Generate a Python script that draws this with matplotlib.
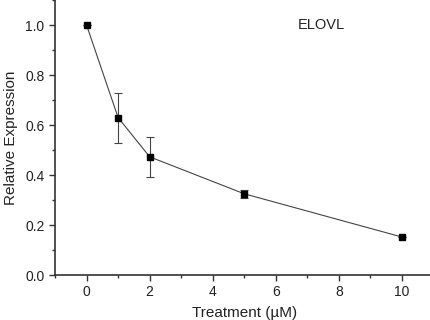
import matplotlib
matplotlib.use("Agg")
import matplotlib.pyplot as plt
from matplotlib.ticker import MultipleLocator

# data
dose = [0, 1, 2, 5, 10]
expression = [1.0, 0.63, 0.473, 0.325, 0.152]
err = [0.0, 0.10, 0.08, 0.016, 0.0]

plt.rcParams['font.family'] = ['Liberation Sans', 'DejaVu Sans']

fig = plt.figure(figsize=(4.3, 3.2), dpi=100)
ax = fig.add_axes([0.128, 0.1406, 0.88, 0.859])

ax.plot(dose, expression, '-', color='#444444', lw=0.8, zorder=2)
ax.errorbar(dose, expression, yerr=err, fmt='none', ecolor='#444444',
            elinewidth=0.8, capsize=3, capthick=0.8, zorder=2)
ax.plot(dose, expression, 's', color='black', ms=5, zorder=3)

ax.set_xlim(-1, 11)
ax.set_ylim(0, 1.1)
ax.xaxis.set_major_locator(MultipleLocator(2))
ax.xaxis.set_minor_locator(MultipleLocator(1))
ax.yaxis.set_major_locator(MultipleLocator(0.2))
ax.yaxis.set_minor_locator(MultipleLocator(0.1))
ax.yaxis.set_major_formatter(matplotlib.ticker.FormatStrFormatter('%.1f'))

for s in ['top', 'right']:
    ax.spines[s].set_visible(False)
for s in ['left', 'bottom']:
    ax.spines[s].set_linewidth(1.2)
    ax.spines[s].set_color('#333333')

ax.tick_params(which='major', direction='out', length=4, width=1, labelsize=10, colors='#333333')
ax.tick_params(which='minor', direction='out', length=2.5, width=1, colors='#333333')
for lab in ax.get_xticklabels() + ax.get_yticklabels():
    lab.set_color('#222222')

ax.text(7.46, 1.0, 'ELOVL', fontsize=10.5, ha='center', va='center', color='#222222')
ax.set_xlabel('Treatment (µM)', fontsize=11, color='#222222', labelpad=5)
ax.set_ylabel('Relative Expression', fontsize=11, color='#222222', labelpad=5)

fig.savefig('out.png', dpi=100)
